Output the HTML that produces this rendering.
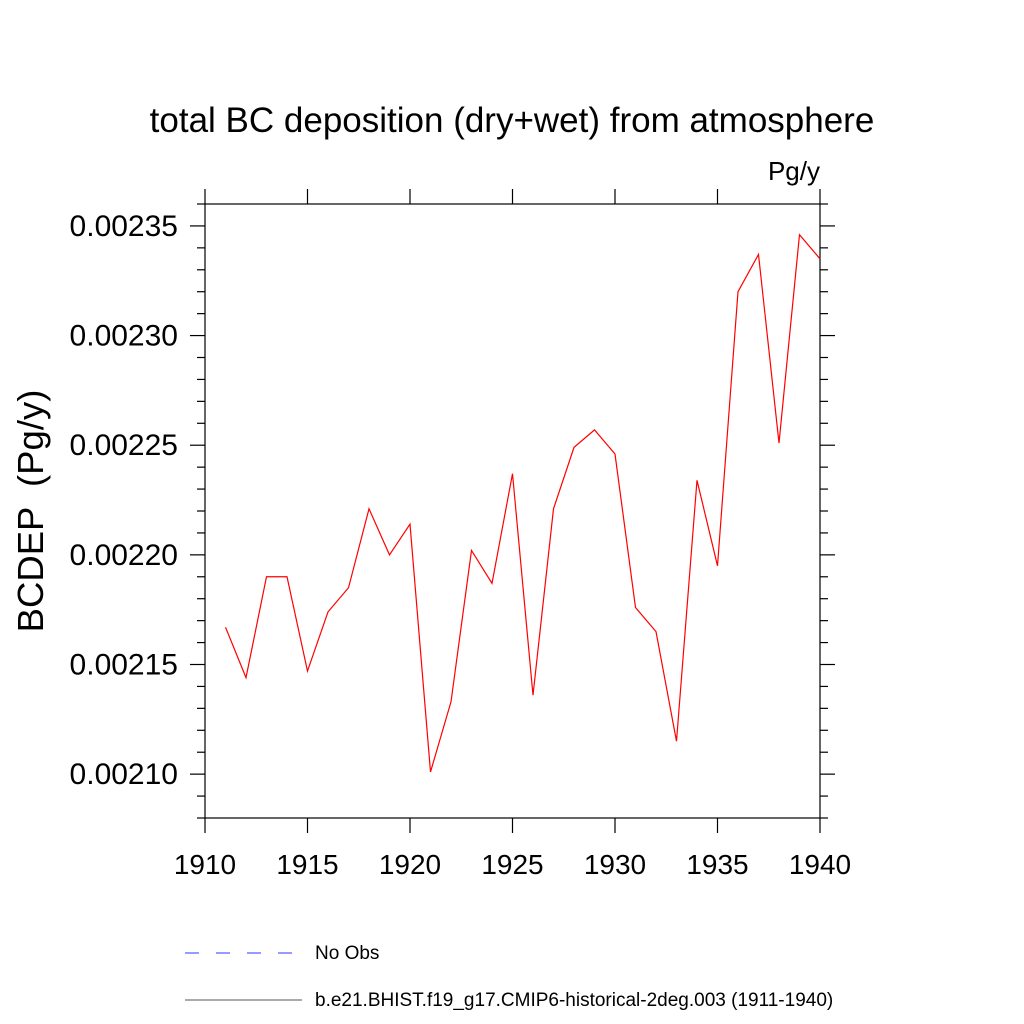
<!DOCTYPE html>
<html><head><meta charset="utf-8"><style>body{margin:0;background:#fff}svg{display:block}text{font-family:"Liberation Sans",sans-serif}</style></head>
<body>
<svg id="chart" width="1024" height="1024" xmlns="http://www.w3.org/2000/svg">
<text x="512" y="132" font-size="35" text-anchor="middle">total BC deposition (dry+wet) from atmosphere</text>
<text x="820" y="180" font-size="26" text-anchor="end">Pg/y</text>
<text transform="translate(43,511) rotate(-90)" font-size="36.5" text-anchor="middle" xml:space="preserve" style="white-space:pre">BCDEP  (Pg/y)</text>
<rect x="205" y="204" width="615" height="614" fill="none" stroke="#000" stroke-width="1.2"/>
<g id="axes"></g>
<polyline id="series" fill="none" stroke="#ff0000" stroke-width="1.2"/>
<line x1="185" y1="953" x2="292" y2="953" stroke="#3333ff" stroke-width="1" stroke-dasharray="14,17"/>
<text x="315" y="959" font-size="19">No Obs</text>
<line x1="185" y1="1000" x2="302" y2="1000" stroke="#555" stroke-width="1"/>
<text x="315" y="1006" font-size="19">b.e21.BHIST.f19_g17.CMIP6-historical-2deg.003 (1911-1940)</text>
</svg>
<script>
const years=[1911,1912,1913,1914,1915,1916,1917,1918,1919,1920,1921,1922,1923,1924,1925,1926,1927,1928,1929,1930,1931,1932,1933,1934,1935,1936,1937,1938,1939,1940];
const values=[0.002167,0.002144,0.002190,0.002190,0.002147,0.002174,0.002185,0.002221,0.002200,0.002214,0.002101,0.002133,0.002202,0.002187,0.002237,0.002136,0.002221,0.002249,0.002257,0.002246,0.002176,0.002165,0.002115,0.002234,0.002195,0.002320,0.002337,0.002251,0.002346,0.002335];
const xTicks=[1910,1915,1920,1925,1930,1935,1940];
const yTicks=["0.00210","0.00215","0.00220","0.00225","0.00230","0.00235"];
const X0=205,X1=820,Y0=818,Y1=204;
const xMin=1910,xMax=1940,yMin=0.00208,yMax=0.00236;
function sx(v){return X0+(v-xMin)/(xMax-xMin)*(X1-X0);}
function sy(v){return Y0-(v-yMin)/(yMax-yMin)*(Y0-Y1);}
const NS="http://www.w3.org/2000/svg";
const g=document.getElementById('axes');
function line(x1,y1,x2,y2,name){const l=document.createElementNS(NS,'line');l.setAttribute('x1',x1);l.setAttribute('y1',y1);l.setAttribute('x2',x2);l.setAttribute('y2',y2);l.setAttribute('stroke','#000');l.setAttribute('stroke-width','1.2');


g.appendChild(l);}
function text(x,y,s,anchor,size,name){const t=document.createElementNS(NS,'text');t.setAttribute('x',x);t.setAttribute('y',y);t.setAttribute('font-size',size);t.setAttribute('text-anchor',anchor);t.textContent=s;


g.appendChild(t);}
xTicks.forEach(v=>{const x=sx(v);line(x,Y0,x,Y0+15,'x-tick');line(x,Y1,x,Y1-15,'x-tick-top');text(x,Y0+56,String(v),'middle','28','x-tick-label');});
for(let i=0;i<=28;i++){const v=yMin+i*0.00001;const y=sy(v);const major=(i%5===2);const L=major?15:8;line(X0-L,y,X0,y,'y-tick');line(X1,y,X1+L,y,'y-tick-right');}
yTicks.forEach(s=>{const y=sy(parseFloat(s));text(178,y+10,s,'end','30','y-tick-label');});
document.getElementById('series').setAttribute('points',years.map((yr,i)=>sx(yr)+','+sy(values[i])).join(' '));
</script>
</body></html>
